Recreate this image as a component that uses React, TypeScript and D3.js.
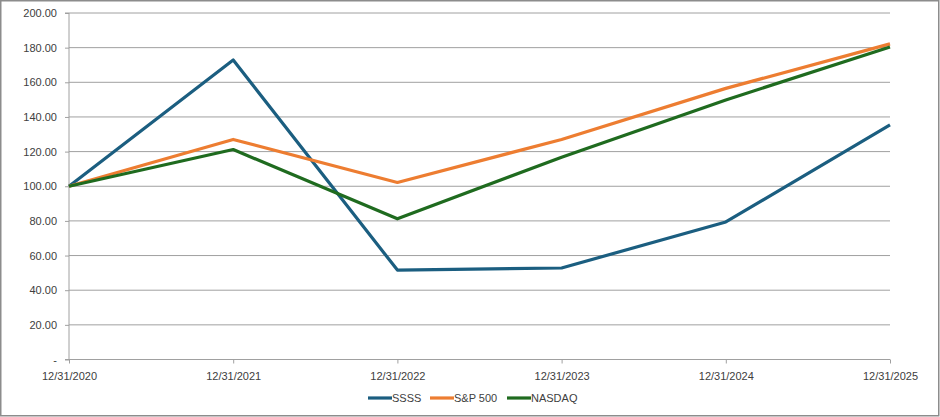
import React, { useRef, useEffect } from 'react';
import * as d3 from 'd3';

// Chart data
const dates: string[] = ['12/31/2020', '12/31/2021', '12/31/2022', '12/31/2023', '12/31/2024', '12/31/2025'];
const ssss: number[] = [100, 172.9, 51.6, 52.8, 79.4, 135.4];
const sp500: number[] = [100, 127.0, 102.2, 127.0, 156.5, 182.2];
const nasdaq: number[] = [100, 121.2, 81.2, 116.8, 149.8, 180.4];
const yTicks: number[] = [0, 20, 40, 60, 80, 100, 120, 140, 160, 180, 200];

const seriesList = [
  { name: 'SSSS', values: ssss, color: '#1b5e80' },
  { name: 'S&P 500', values: sp500, color: '#ed7d31' },
  { name: 'NASDAQ', values: nasdaq, color: '#1f6b1f' },
];

const width = 940;
const height = 417;
const margin = { top: 13, right: 50, bottom: 57.5, left: 69 };
const font = '"Liberation Sans", Arial, sans-serif';

const App = () => {
  const chartRef = useRef<SVGSVGElement | null>(null);

  useEffect(() => {
    document.body.style.margin = '0';
    if (!chartRef.current) return;
    const svg = d3.select(chartRef.current);
    svg.selectAll('*').remove();

    const innerWidth = width - margin.left - margin.right;
    const innerHeight = height - margin.top - margin.bottom;

    const xScale = d3.scalePoint<string>().domain(dates).range([0, innerWidth]).padding(0);
    const yScale = d3.scaleLinear().domain([0, 200]).range([innerHeight, 0]);

    // outer border
    svg
      .append('rect')
      .attr('x', 0.75)
      .attr('y', 0.75)
      .attr('width', width - 2)
      .attr('height', height - 2)
      .attr('fill', '#fff')
      .attr('stroke', '#8c8c8c')
      .attr('stroke-width', 1.5);

    const g = svg.append('g').attr('transform', `translate(${margin.left},${margin.top})`);

    // horizontal gridlines
    g.selectAll('.grid')
      .data(yTicks.filter((t) => t > 0))
      .enter()
      .append('line')
      .attr('x1', 0)
      .attr('x2', innerWidth)
      .attr('y1', (d) => yScale(d))
      .attr('y2', (d) => yScale(d))
      .attr('stroke', '#a0a0a0')
      .attr('stroke-width', 1);

    // y axis
    const yAxis = d3
      .axisLeft(yScale)
      .tickValues(yTicks)
      .tickSize(4)
      .tickPadding(8)
      .tickFormat((d) => (+d === 0 ? '-' : d3.format('.2f')(+d)));
    const yg = g.append('g').call(yAxis);
    yg.selectAll('path, line').attr('stroke', '#a0a0a0');
    yg.select('.domain').attr('d', `M-4,${innerHeight}H0V0H-4`);

    // x axis
    const xAxis = d3.axisBottom(xScale).tickSize(4).tickPadding(9);
    const xg = g.append('g').attr('transform', `translate(0,${innerHeight})`).call(xAxis);
    xg.selectAll('path, line').attr('stroke', '#a0a0a0');
    xg.select('.domain').attr('d', `M0,0H${innerWidth}`);

    g.selectAll('.tick text')
      .style('fill', '#404040')
      .style('font-size', '11px')
      .style('font-family', font);

    // lines
    const line = d3
      .line<number>()
      .x((_, i) => xScale(dates[i]) ?? 0)
      .y((d) => yScale(d));

    seriesList.forEach((s) => {
      g.append('path')
        .datum(s.values)
        .attr('d', line)
        .attr('fill', 'none')
        .attr('stroke', s.color)
        .attr('stroke-width', 3.2)
        .attr('stroke-linejoin', 'round');
    });

    // legend
    const legendX = [368, 430, 507];
    const legendY = 398;
    seriesList.forEach((s, i) => {
      const lg = svg.append('g').attr('transform', `translate(${legendX[i]},${legendY})`);
      lg.append('line')
        .attr('x1', 0)
        .attr('x2', 24)
        .attr('y1', 0)
        .attr('y2', 0)
        .attr('stroke', s.color)
        .attr('stroke-width', 3.2);
      lg.append('text')
        .attr('x', 24)
        .attr('y', 4)
        .style('fill', '#404040')
        .style('font-size', '11px')
        .style('font-family', font)
        .text(s.name);
    });
  }, []);

  return (
    <div style={{ width, height }}>
      <svg ref={chartRef} width={width} height={height} style={{ display: 'block' }} />
    </div>
  );
};

export default App;
